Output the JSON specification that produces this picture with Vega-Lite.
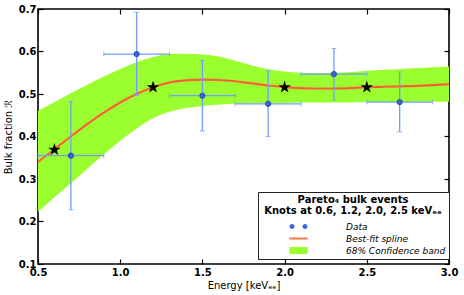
{
  "$schema": "https://vega.github.io/schema/vega-lite/v6.json",
  "width": 411,
  "height": 255,
  "autosize": "none",
  "padding": {"left": 38, "top": 9, "right": 15, "bottom": 31},
  "background": "white",
  "datasets": {
    "spline": [
      {"x": 0.5, "y": 0.340, "lo": 0.223, "hi": 0.460},
      {"x": 0.6, "y": 0.370, "lo": 0.257, "hi": 0.481},
      {"x": 0.7, "y": 0.400, "lo": 0.290, "hi": 0.502},
      {"x": 0.8, "y": 0.429, "lo": 0.324, "hi": 0.522},
      {"x": 0.9, "y": 0.456, "lo": 0.358, "hi": 0.541},
      {"x": 1.0, "y": 0.480, "lo": 0.390, "hi": 0.559},
      {"x": 1.1, "y": 0.500, "lo": 0.419, "hi": 0.575},
      {"x": 1.2, "y": 0.516, "lo": 0.443, "hi": 0.587},
      {"x": 1.3, "y": 0.527, "lo": 0.458, "hi": 0.594},
      {"x": 1.4, "y": 0.532, "lo": 0.467, "hi": 0.595},
      {"x": 1.5, "y": 0.534, "lo": 0.472, "hi": 0.593},
      {"x": 1.6, "y": 0.533, "lo": 0.475, "hi": 0.588},
      {"x": 1.7, "y": 0.530, "lo": 0.477, "hi": 0.578},
      {"x": 1.8, "y": 0.525, "lo": 0.478, "hi": 0.567},
      {"x": 1.9, "y": 0.520, "lo": 0.479, "hi": 0.558},
      {"x": 2.0, "y": 0.516, "lo": 0.479, "hi": 0.553},
      {"x": 2.1, "y": 0.514, "lo": 0.480, "hi": 0.550},
      {"x": 2.2, "y": 0.513, "lo": 0.480, "hi": 0.549},
      {"x": 2.3, "y": 0.513, "lo": 0.480, "hi": 0.550},
      {"x": 2.4, "y": 0.514, "lo": 0.480, "hi": 0.552},
      {"x": 2.5, "y": 0.516, "lo": 0.481, "hi": 0.555},
      {"x": 2.6, "y": 0.517, "lo": 0.481, "hi": 0.557},
      {"x": 2.7, "y": 0.518, "lo": 0.481, "hi": 0.559},
      {"x": 2.8, "y": 0.519, "lo": 0.482, "hi": 0.561},
      {"x": 2.9, "y": 0.521, "lo": 0.482, "hi": 0.563},
      {"x": 3.0, "y": 0.523, "lo": 0.482, "hi": 0.565}
    ],
    "points": [
      {"x": 0.7, "y": 0.355, "xlo": 0.5, "xhi": 0.9, "ylo": 0.228, "yhi": 0.483},
      {"x": 1.1, "y": 0.594, "xlo": 0.9, "xhi": 1.3, "ylo": 0.496, "yhi": 0.692},
      {"x": 1.5, "y": 0.496, "xlo": 1.3, "xhi": 1.7, "ylo": 0.413, "yhi": 0.579},
      {"x": 1.9, "y": 0.477, "xlo": 1.7, "xhi": 2.1, "ylo": 0.400, "yhi": 0.554},
      {"x": 2.3, "y": 0.547, "xlo": 2.1, "xhi": 2.5, "ylo": 0.486, "yhi": 0.607},
      {"x": 2.7, "y": 0.481, "xlo": 2.5, "xhi": 2.9, "ylo": 0.411, "yhi": 0.552}
    ],
    "knots": [
      {"x": 0.6, "y": 0.369},
      {"x": 1.2, "y": 0.516},
      {"x": 2.0, "y": 0.516},
      {"x": 2.5, "y": 0.516}
    ]
  },
  "resolve": {"axis": {"x": "independent", "y": "independent"}},
  "layer": [
    {
      "data": {"name": "spline"},
      "mark": {"type": "area", "color": "#9bff2f", "interpolate": "monotone", "opacity": 1},
      "encoding": {
        "x": {"field": "x", "type": "quantitative", "scale": {"domain": [0.5, 3.0], "nice": false, "zero": false},
          "axis": {"orient": "bottom", "values": [0.5, 1.0, 1.5, 2.0, 2.5, 3.0], "format": ".1f", "title": "Energy [keVₑₑ]", "labelPadding": 8, "titlePadding": 3}},
        "y": {"field": "lo", "type": "quantitative", "scale": {"domain": [0.1, 0.7], "nice": false, "zero": false},
          "axis": {"orient": "left", "values": [0.1, 0.2, 0.3, 0.4, 0.5, 0.6, 0.7], "format": ".1f", "title": "Bulk fraction ℛ", "labelPadding": 7, "titlePadding": 5}},
        "y2": {"field": "hi"}
      }
    },
    {
      "data": {"name": "spline"},
      "mark": {"type": "line", "color": "#ff5e3a", "strokeWidth": 2.2, "interpolate": "monotone"},
      "encoding": {
        "x": {"field": "x", "type": "quantitative", "scale": {"domain": [0.5, 3.0], "nice": false, "zero": false},
          "axis": {"orient": "top", "values": [0.5, 1.0, 1.5, 2.0, 2.5, 3.0], "labels": false, "title": null}},
        "y": {"field": "y", "type": "quantitative", "scale": {"domain": [0.1, 0.7], "nice": false, "zero": false},
          "axis": {"orient": "right", "values": [0.1, 0.2, 0.3, 0.4, 0.5, 0.6, 0.7], "labels": false, "title": null}}
      }
    },
    {
      "data": {"name": "points"},
      "mark": {"type": "errorbar", "color": "#6f9eff", "thickness": 1.3, "ticks": {"size": 5, "thickness": 1.1}},
      "encoding": {
        "x": {"field": "x", "type": "quantitative", "axis": null},
        "y": {"field": "ylo", "type": "quantitative", "axis": null},
        "y2": {"field": "yhi"}
      }
    },
    {
      "data": {"name": "points"},
      "mark": {"type": "errorbar", "color": "#6f9eff", "thickness": 1.3, "ticks": {"size": 5, "thickness": 1.1}},
      "encoding": {
        "y": {"field": "y", "type": "quantitative", "axis": null},
        "x": {"field": "xlo", "type": "quantitative", "axis": null},
        "x2": {"field": "xhi"}
      }
    },
    {
      "data": {"name": "points"},
      "mark": {"type": "point", "filled": true, "fill": "#3a63e0", "stroke": "#1d3fa6", "strokeWidth": 0.8, "size": 28, "opacity": 1},
      "encoding": {
        "x": {"field": "x", "type": "quantitative", "axis": null},
        "y": {"field": "y", "type": "quantitative", "axis": null}
      }
    },
    {
      "data": {"name": "knots"},
      "mark": {"type": "point", "filled": true, "color": "black", "size": 175, "opacity": 1,
        "shape": "M0,-1L0.2245,-0.309L0.951,-0.309L0.363,0.118L0.588,0.809L0,0.382L-0.588,0.809L-0.363,0.118L-0.951,-0.309L-0.2245,-0.309Z"},
      "encoding": {
        "x": {"field": "x", "type": "quantitative", "axis": null},
        "y": {"field": "y", "type": "quantitative", "axis": null}
      }
    },
    {
      "data": {"values": []},
      "mark": {"type": "point", "filled": true, "opacity": 1},
      "encoding": {
        "color": {"datum": "Data", "type": "nominal",
          "scale": {"domain": ["Data", "Best-fit spline", "68% Confidence band"], "range": ["#3a63e0", "#ff7a4a", "#9bff2f"]},
          "legend": {"title": ["Pareto₄  bulk events", "Knots at 0.6, 1.2, 2.0, 2.5 keVₑₑ"], "orient": "none", "legendX": 220, "legendY": 183}},
        "shape": {"datum": "Data", "type": "nominal",
          "scale": {"domain": ["Data", "Best-fit spline", "68% Confidence band"],
            "range": ["M-0.62,0A0.38,0.38 0 1,1 -1.38,0A0.38,0.38 0 1,1 -0.62,0Z M1.38,0A0.38,0.38 0 1,1 0.62,0A0.38,0.38 0 1,1 1.38,0Z", "M-1.4,-0.16H1.4V0.16H-1.4Z", "M-1.4,-0.55H1.4V0.55H-1.4Z"]},
          "legend": {"title": ["Pareto₄  bulk events", "Knots at 0.6, 1.2, 2.0, 2.5 keVₑₑ"], "orient": "none", "legendX": 220, "legendY": 183}}
      }
    }
  ],
  "config": {
    "view": {"stroke": "black", "strokeWidth": 1.6},
    "font": "DejaVu Sans",
    "axis": {
      "labelFont": "DejaVu Sans", "labelFontSize": 10, "labelFontWeight": "bold", "labelColor": "black",
      "titleFont": "DejaVu Sans", "titleFontSize": 10, "titleFontWeight": "normal", "titleColor": "black",
      "tickColor": "black", "tickSize": -5, "tickWidth": 1.2, "domain": false, "grid": false,
      "labelOverlap": false, "labelFlush": false, "labelBound": false
    },
    "legend": {
      "padding": 3, "strokeColor": "#222", "fillColor": "white", "cornerRadius": 0,
      "titleFont": "DejaVu Sans", "titleFontSize": 10, "titleFontWeight": "bold", "titleColor": "black",
      "titleAnchor": "middle", "titleAlign": "center", "titleLineHeight": 11, "titlePadding": 4,
      "labelFont": "DejaVu Sans", "labelFontSize": 9, "labelFontStyle": "italic", "labelColor": "black",
      "symbolSize": 169, "symbolStrokeWidth": 0, "symbolOffset": 31, "labelOffset": 41, "rowPadding": 0
    }
  }
}
